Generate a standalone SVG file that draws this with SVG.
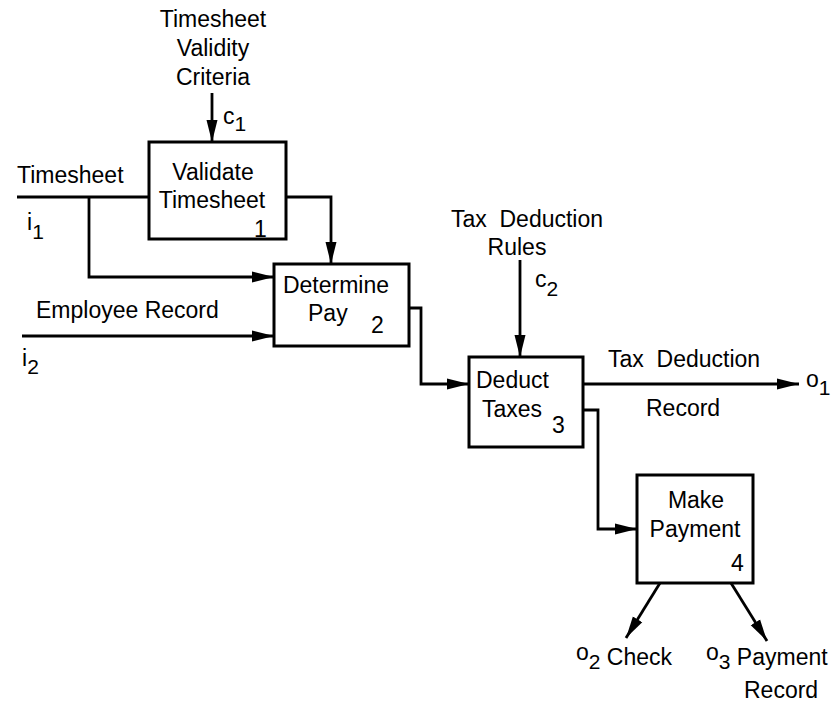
<svg xmlns="http://www.w3.org/2000/svg" width="839" height="703" viewBox="0 0 839 703">
  <style>
    .box { fill: #fff; stroke: #000; stroke-width: 3; }
    .wire { fill: none; stroke: #000; stroke-width: 2.8; }
    text { font-family: "Liberation Sans", Arial, sans-serif; font-size: 23px; fill: #000; }
    .c { text-anchor: middle; }
    .sub { font-size: 21px; }
  </style>
  <defs>
    <marker id="arrow" markerUnits="userSpaceOnUse" markerWidth="24" markerHeight="12" refX="22" refY="6" orient="auto">
      <path d="M0,0.5 L22,6 L0,11.5 z" fill="#000"/>
    </marker>
  </defs>

  <!-- connectors -->
  <g id="connectors">
    <path class="wire" d="M212,93 V142" marker-end="url(#arrow)"/>
    <path class="wire" d="M17,197 H149"/>
    <path class="wire" d="M89,197 V277 H274" marker-end="url(#arrow)"/>
    <path class="wire" d="M286,197 H331 V264" marker-end="url(#arrow)"/>
    <path class="wire" d="M22,336 H274" marker-end="url(#arrow)"/>
    <path class="wire" d="M409,308 H421 V384 H469" marker-end="url(#arrow)"/>
    <path class="wire" d="M520,260 V357" marker-end="url(#arrow)"/>
    <path class="wire" d="M583,384 H799" marker-end="url(#arrow)"/>
    <path class="wire" d="M583,410 H598 V529 H637" marker-end="url(#arrow)"/>
    <path class="wire" d="M660,583 L626,638" marker-end="url(#arrow)"/>
    <path class="wire" d="M731,583 L767,641" marker-end="url(#arrow)"/>
  </g>

  <!-- arrow labels -->
  <g id="labels">
    <text class="c" x="213" y="27">Timesheet</text>
    <text class="c" x="213" y="56">Validity</text>
    <text class="c" x="213" y="85">Criteria</text>
    <text x="223" y="124">c<tspan class="sub" dy="7">1</tspan></text>

    <text x="17" y="183">Timesheet</text>
    <text x="27" y="230">i<tspan class="sub" dy="9">1</tspan></text>

    <text x="36" y="318">Employee Record</text>
    <text x="22" y="366">i<tspan class="sub" dy="8">2</tspan></text>

    <text class="c" x="527" y="227" xml:space="preserve">Tax  Deduction</text>
    <text class="c" x="517" y="255">Rules</text>
    <text x="535" y="287">c<tspan class="sub" dy="9">2</tspan></text>

    <text x="608" y="367" xml:space="preserve">Tax  Deduction</text>
    <text x="646" y="416">Record</text>
    <text x="806" y="387">o<tspan class="sub" dy="8">1</tspan></text>

    <text x="576" y="660">o<tspan class="sub" dy="9">2</tspan><tspan dy="-4"> Check</tspan></text>
    <text x="706" y="660">o<tspan class="sub" dy="9">3</tspan><tspan dy="-4"> Payment</tspan></text>
    <text x="744" y="698">Record</text>
  </g>

  <!-- activity 1 -->
  <g id="validate-timesheet">
    <rect class="box" x="149" y="142" width="137" height="97"/>
    <text class="c" x="213" y="180">Validate</text>
    <text class="c" x="212" y="208">Timesheet</text>
    <text x="254" y="237">1</text>
  </g>

  <!-- activity 2 -->
  <g id="determine-pay">
    <rect class="box" x="274" y="264" width="135" height="82"/>
    <text class="c" x="336" y="293">Determine</text>
    <text x="308" y="321">Pay</text>
    <text x="371" y="333">2</text>
  </g>

  <!-- activity 3 -->
  <g id="deduct-taxes">
    <rect class="box" x="469" y="357" width="114" height="90"/>
    <text x="476" y="388">Deduct</text>
    <text x="482" y="417">Taxes</text>
    <text x="552" y="433">3</text>
  </g>

  <!-- activity 4 -->
  <g id="make-payment">
    <rect class="box" x="637" y="475" width="116" height="108"/>
    <text class="c" x="696" y="508">Make</text>
    <text class="c" x="695" y="537">Payment</text>
    <text x="731" y="571">4</text>
  </g>
</svg>
